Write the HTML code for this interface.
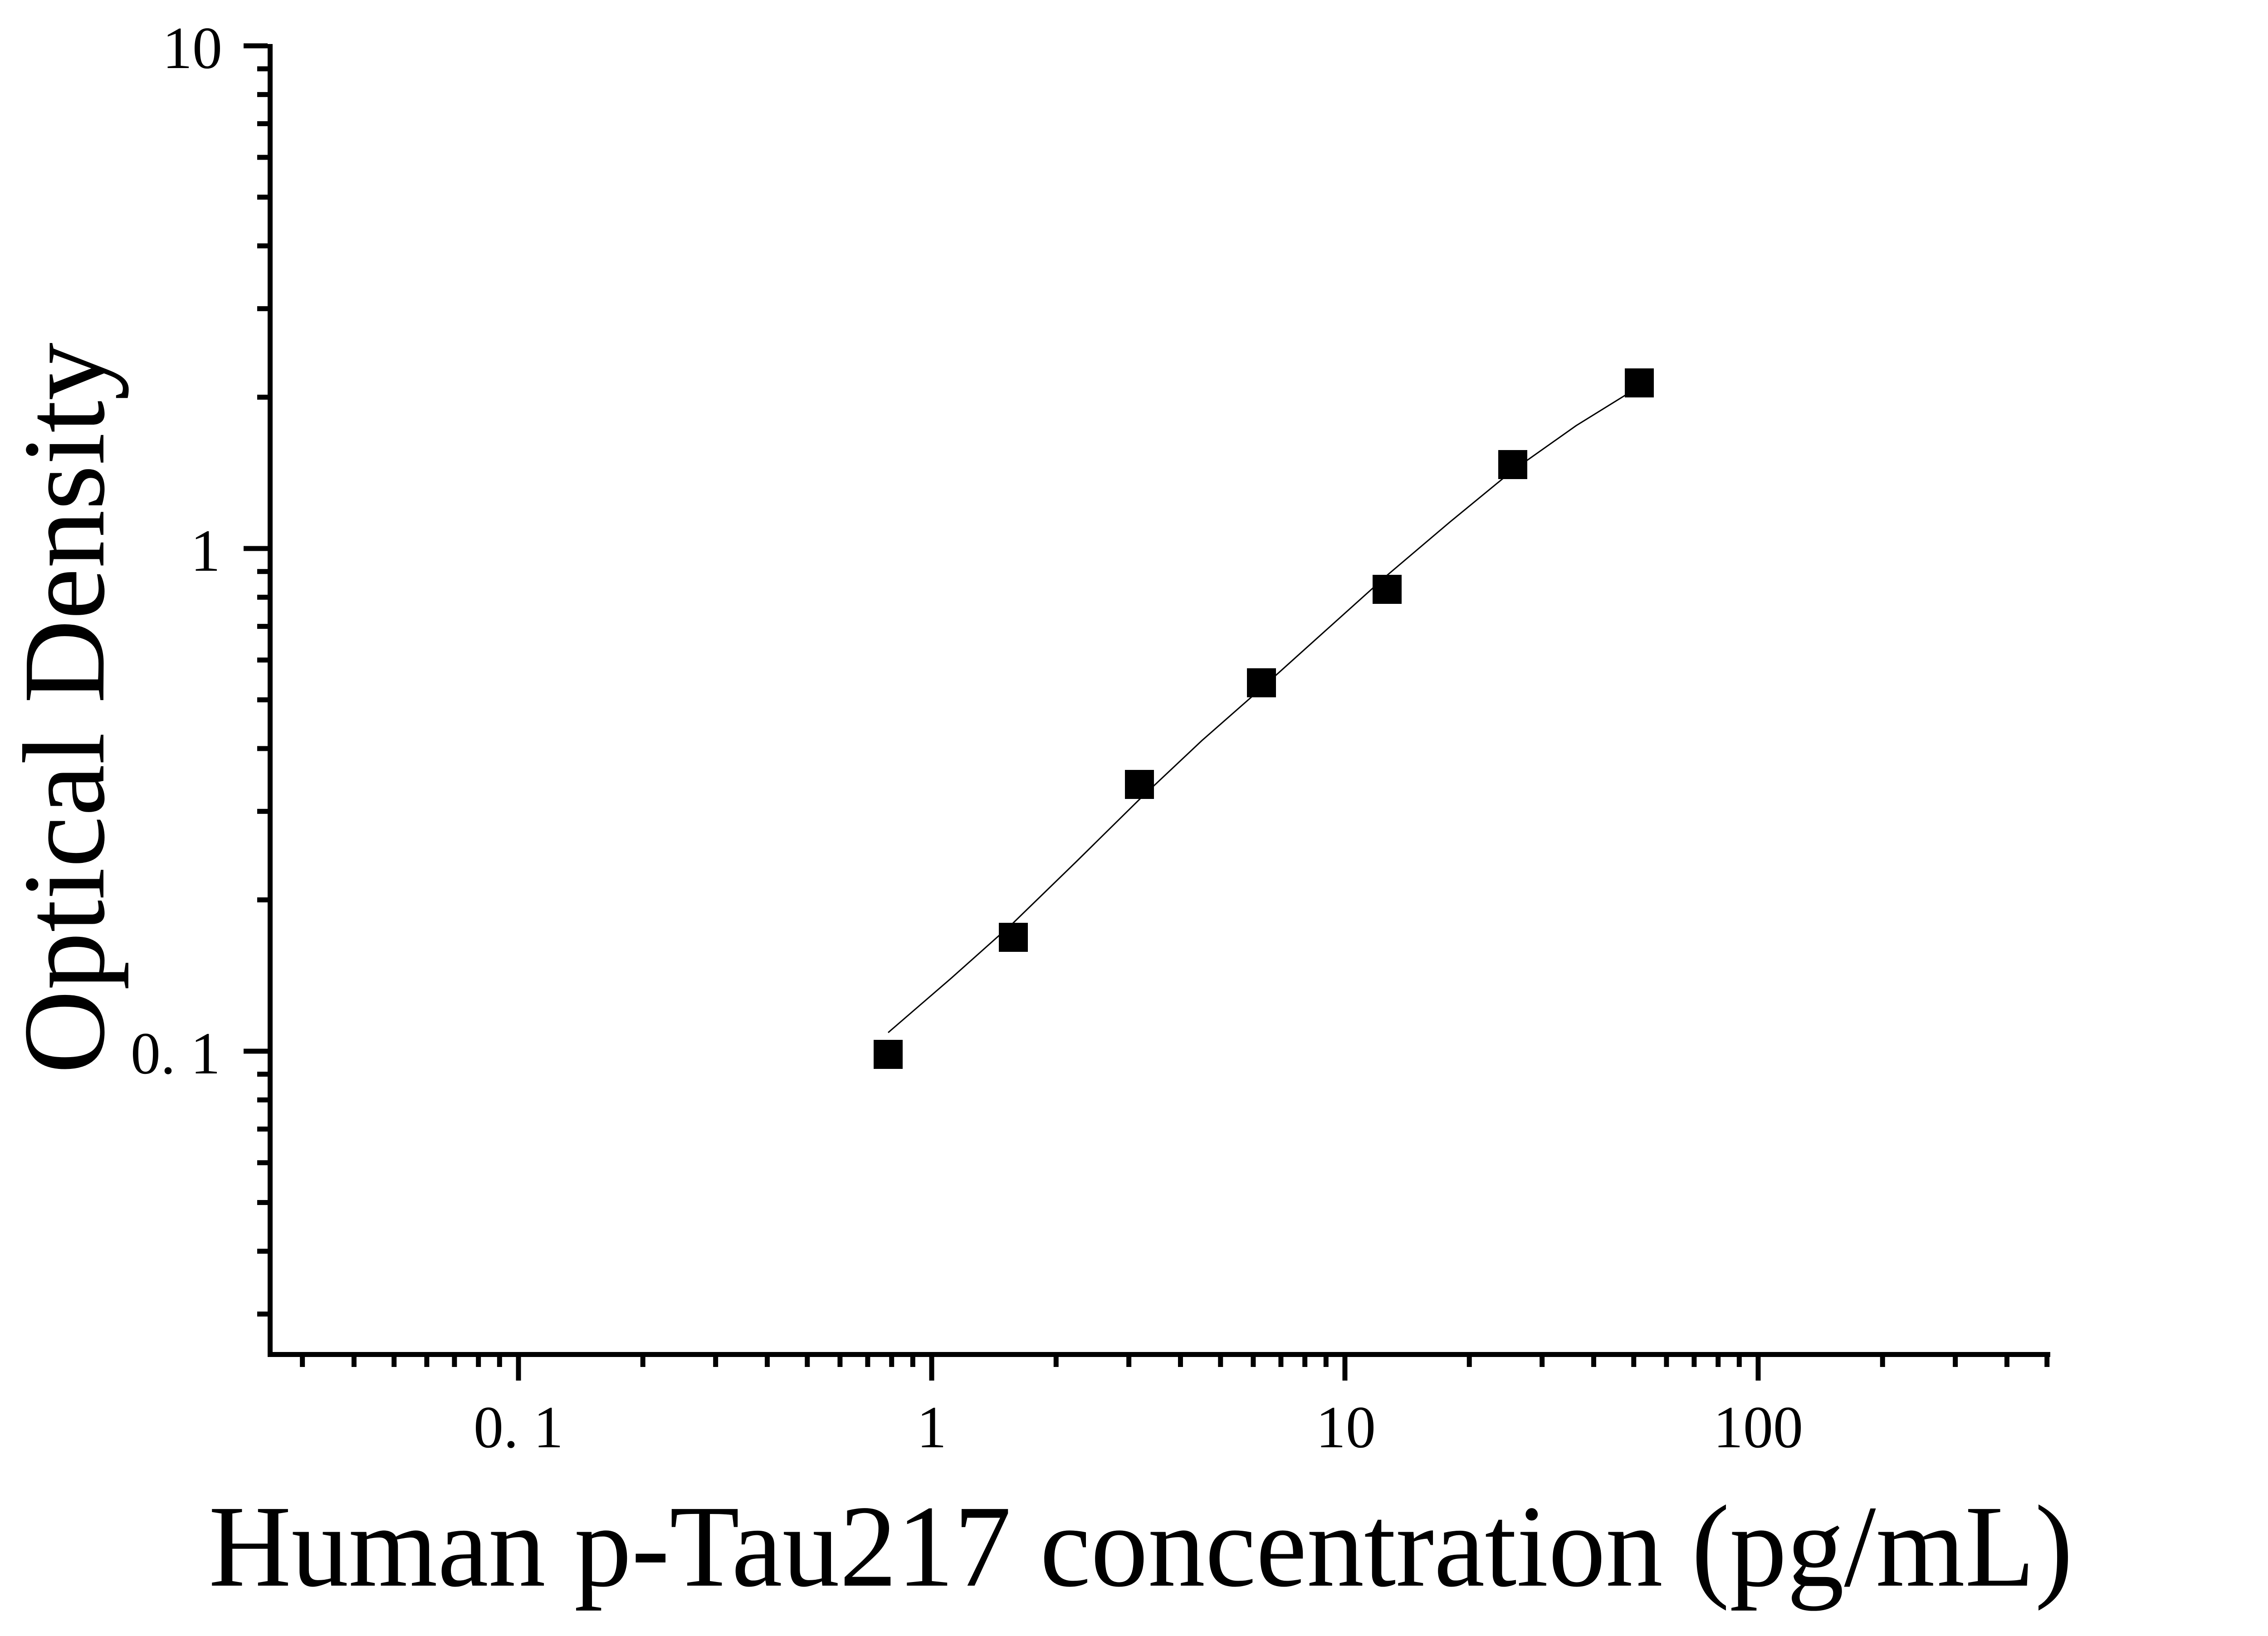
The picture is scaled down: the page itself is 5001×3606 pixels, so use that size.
<!DOCTYPE html>
<html><head><meta charset="utf-8"><style>html,body{margin:0;padding:0;background:#fff}svg{display:block}</style></head>
<body>
<svg width="5001" height="3606" viewBox="0 0 5001 3606" xmlns="http://www.w3.org/2000/svg">
<rect width="5001" height="3606" fill="#fff"/>
<g id="ax" fill="#000"></g>
<polyline fill="none" stroke="#000" stroke-width="3" stroke-linejoin="round" points="1958,2276 2096,2157 2234,2034 2373,1899 2512,1762 2650,1632 2781,1517 2920,1392 3058,1268 3196,1151 3335,1037 3475,938 3614,852"/>
<g fill="#000">
<rect x="1926" y="2292" width="64" height="64"/>
<rect x="2202" y="2034" width="64" height="64"/>
<rect x="2480" y="1697" width="64" height="64"/>
<rect x="2749" y="1473" width="64" height="64"/>
<rect x="3026" y="1267" width="64" height="64"/>
<rect x="3303" y="992" width="64" height="64"/>
<rect x="3582" y="812" width="64" height="64"/>
</g>
<g font-family="Liberation Serif, serif" font-size="132" fill="#000">
<text x="490" y="150" text-anchor="end">10</text>
<text x="486" y="1258" text-anchor="end">1</text>
<text x="486" y="2366" text-anchor="end">0. 1</text>
<text x="1143" y="3190" text-anchor="middle">0. 1</text>
<text x="2054" y="3190" text-anchor="middle">1</text>
<text x="2967" y="3190" text-anchor="middle">10</text>
<text x="3876" y="3190" text-anchor="middle">100</text>
</g>
<g font-family="Liberation Serif, serif" font-size="258" fill="#000">
<text x="460" y="3495" textLength="4110" lengthAdjust="spacingAndGlyphs">Human p-Tau217 concentration (pg/mL)</text>
<text transform="translate(228,1561) rotate(-90)" text-anchor="middle" textLength="1612" lengthAdjust="spacingAndGlyphs">Optical Density</text>
</g>
<script>
(function(){
var g=document.getElementById('ax'),ns='http://www.w3.org/2000/svg';
function r(x,y,w,h){var e=document.createElementNS(ns,'rect');e.setAttribute('x',x);e.setAttribute('y',y);e.setAttribute('width',w);e.setAttribute('height',h);g.appendChild(e);}
r(590,97,11,2894); r(590,2980,3930,11);
function Y(v){return 1209-1108*Math.log10(v);} function X(v){return 2054+911*Math.log10(v);}
var decs=[0.01,0.1,1];
decs.forEach(function(d){for(var k=1;k<=9;k++){var v=d*k;var y=Y(v);if(y>2985||y<95)continue;
 if(k==1){r(537,y-5.5,53,11);}else{r(567,y-5.5,23,11);}}});
r(537,Y(10)-5.5,53,11);
[0.01,0.1,1,10,100].forEach(function(d){for(var k=1;k<=9;k++){var v=d*k;if(v>500.1)continue;var x=X(v);if(x<600)continue;
 if(k==1){r(x-5.5,2991,11,52);}else{r(x-5.5,2991,11,22);}}});
})();
</script>
</svg>
</body></html>
